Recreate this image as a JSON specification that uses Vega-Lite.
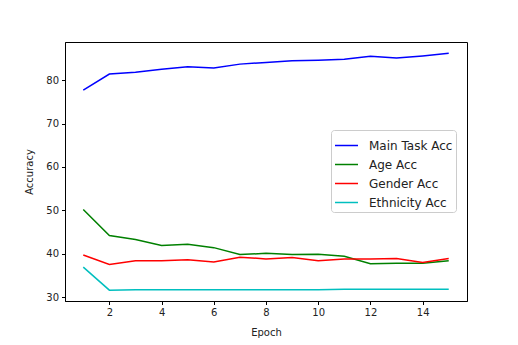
{
  "$schema": "https://vega.github.io/schema/vega-lite/v6.json",
  "width": 402,
  "height": 259,
  "autosize": "none",
  "padding": {"left": 65, "top": 42, "right": 51, "bottom": 44},
  "background": "white",
  "config": {
    "font": "DejaVu Sans",
    "view": {"stroke": "black", "strokeWidth": 1},
    "axis": {"grid": false, "domainColor": "black", "tickColor": "black", "labelColor": "#222", "titleColor": "#222", "labelFont": "DejaVu Sans", "titleFont": "DejaVu Sans", "labelFontSize": 10, "titleFontSize": 10, "titleFontWeight": "normal", "tickSize": 3.5, "labelPadding": 3}
  },
  "data": {"values": [
    {"epoch": 1, "series": "Main Task Acc", "acc": 77.7},
    {"epoch": 2, "series": "Main Task Acc", "acc": 81.4},
    {"epoch": 3, "series": "Main Task Acc", "acc": 81.8},
    {"epoch": 4, "series": "Main Task Acc", "acc": 82.5},
    {"epoch": 5, "series": "Main Task Acc", "acc": 83.1},
    {"epoch": 6, "series": "Main Task Acc", "acc": 82.8},
    {"epoch": 7, "series": "Main Task Acc", "acc": 83.7},
    {"epoch": 8, "series": "Main Task Acc", "acc": 84.1},
    {"epoch": 9, "series": "Main Task Acc", "acc": 84.5},
    {"epoch": 10, "series": "Main Task Acc", "acc": 84.6},
    {"epoch": 11, "series": "Main Task Acc", "acc": 84.8},
    {"epoch": 12, "series": "Main Task Acc", "acc": 85.5},
    {"epoch": 13, "series": "Main Task Acc", "acc": 85.1},
    {"epoch": 14, "series": "Main Task Acc", "acc": 85.6},
    {"epoch": 15, "series": "Main Task Acc", "acc": 86.2},
    {"epoch": 1, "series": "Age Acc", "acc": 50.2},
    {"epoch": 2, "series": "Age Acc", "acc": 44.2},
    {"epoch": 3, "series": "Age Acc", "acc": 43.3},
    {"epoch": 4, "series": "Age Acc", "acc": 41.9},
    {"epoch": 5, "series": "Age Acc", "acc": 42.2},
    {"epoch": 6, "series": "Age Acc", "acc": 41.4},
    {"epoch": 7, "series": "Age Acc", "acc": 39.8},
    {"epoch": 8, "series": "Age Acc", "acc": 40.1},
    {"epoch": 9, "series": "Age Acc", "acc": 39.8},
    {"epoch": 10, "series": "Age Acc", "acc": 39.9},
    {"epoch": 11, "series": "Age Acc", "acc": 39.4},
    {"epoch": 12, "series": "Age Acc", "acc": 37.7},
    {"epoch": 13, "series": "Age Acc", "acc": 37.8},
    {"epoch": 14, "series": "Age Acc", "acc": 37.8},
    {"epoch": 15, "series": "Age Acc", "acc": 38.4},
    {"epoch": 1, "series": "Gender Acc", "acc": 39.7},
    {"epoch": 2, "series": "Gender Acc", "acc": 37.5},
    {"epoch": 3, "series": "Gender Acc", "acc": 38.4},
    {"epoch": 4, "series": "Gender Acc", "acc": 38.4},
    {"epoch": 5, "series": "Gender Acc", "acc": 38.6},
    {"epoch": 6, "series": "Gender Acc", "acc": 38.1},
    {"epoch": 7, "series": "Gender Acc", "acc": 39.2},
    {"epoch": 8, "series": "Gender Acc", "acc": 38.8},
    {"epoch": 9, "series": "Gender Acc", "acc": 39.1},
    {"epoch": 10, "series": "Gender Acc", "acc": 38.4},
    {"epoch": 11, "series": "Gender Acc", "acc": 38.8},
    {"epoch": 12, "series": "Gender Acc", "acc": 38.8},
    {"epoch": 13, "series": "Gender Acc", "acc": 38.9},
    {"epoch": 14, "series": "Gender Acc", "acc": 38.0},
    {"epoch": 15, "series": "Gender Acc", "acc": 38.9},
    {"epoch": 1, "series": "Ethnicity Acc", "acc": 36.9},
    {"epoch": 2, "series": "Ethnicity Acc", "acc": 31.6},
    {"epoch": 3, "series": "Ethnicity Acc", "acc": 31.7},
    {"epoch": 4, "series": "Ethnicity Acc", "acc": 31.7},
    {"epoch": 5, "series": "Ethnicity Acc", "acc": 31.7},
    {"epoch": 6, "series": "Ethnicity Acc", "acc": 31.7},
    {"epoch": 7, "series": "Ethnicity Acc", "acc": 31.7},
    {"epoch": 8, "series": "Ethnicity Acc", "acc": 31.7},
    {"epoch": 9, "series": "Ethnicity Acc", "acc": 31.7},
    {"epoch": 10, "series": "Ethnicity Acc", "acc": 31.7},
    {"epoch": 11, "series": "Ethnicity Acc", "acc": 31.8},
    {"epoch": 12, "series": "Ethnicity Acc", "acc": 31.8},
    {"epoch": 13, "series": "Ethnicity Acc", "acc": 31.8},
    {"epoch": 14, "series": "Ethnicity Acc", "acc": 31.8},
    {"epoch": 15, "series": "Ethnicity Acc", "acc": 31.8}
  ]},
  "mark": {"type": "line", "strokeWidth": 1.5},
  "encoding": {
    "x": {"field": "epoch", "type": "quantitative", "title": "Epoch",
      "scale": {"domain": [0.3, 15.7], "nice": false, "zero": false},
      "axis": {"values": [2, 4, 6, 8, 10, 12, 14], "titlePadding": 10}},
    "y": {"field": "acc", "type": "quantitative", "title": "Accuracy",
      "scale": {"domain": [29.1, 88.8], "nice": false, "zero": false},
      "axis": {"values": [30, 40, 50, 60, 70, 80], "titlePadding": 11}},
    "color": {"field": "series", "type": "nominal",
      "sort": ["Main Task Acc", "Age Acc", "Gender Acc", "Ethnicity Acc"],
      "scale": {"domain": ["Main Task Acc", "Age Acc", "Gender Acc", "Ethnicity Acc"], "range": ["#0000ff", "#008000", "#ff0000", "#00bfbf"]},
      "legend": {"title": null, "orient": "none", "legendX": 266, "legendY": 88,
        "symbolType": "stroke", "symbolSize": 529, "symbolStrokeWidth": 1.5,
        "labelFontSize": 12, "labelColor": "#222", "labelFont": "DejaVu Sans",
        "fillColor": "white", "strokeColor": "#cccccc", "cornerRadius": 3, "padding": 3, "rowPadding": 0, "labelOffset": 10}}
  }
}
